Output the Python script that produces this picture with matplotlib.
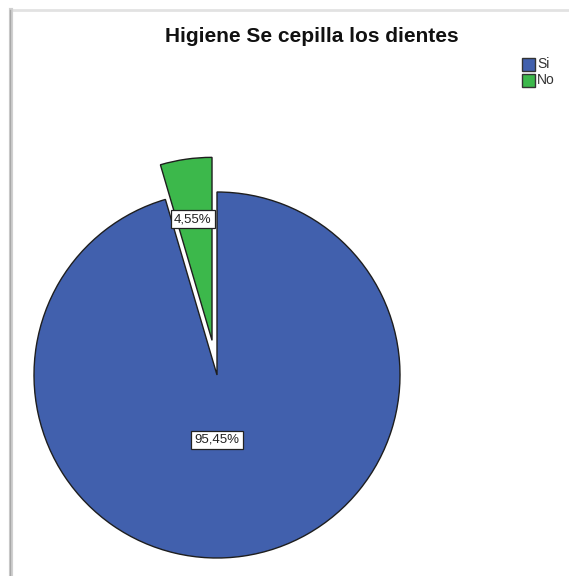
import matplotlib.pyplot as plt
from matplotlib.patches import Rectangle
from matplotlib.lines import Line2D

plt.rcParams['font.family'] = ['Liberation Sans', 'DejaVu Sans']

# Data
categories = ['Si', 'No']
percentages = [95.45, 4.55]
colors = ['#4160ad', '#3cb84b']
title = 'Higiene Se cepilla los dientes'

W, H = 569, 576
fig = plt.figure(figsize=(W / 100, H / 100), dpi=100)
ax = fig.add_axes([0, 0, 1, 1])
ax.set_xlim(0, W)
ax.set_ylim(0, H)
ax.set_aspect('equal')
ax.axis('off')

# chart frame (top and left edges with a soft shadow)
ax.add_line(Line2D([10, W], [H - 10, H - 10], color='#e2e2e2', lw=2.0))
ax.add_line(Line2D([11, 11], [0, H - 10], color='#d0d0d0', lw=3.0))
ax.add_line(Line2D([10, 10], [0, H - 10], color='#a8a8a8', lw=1.0))

# pie in pixel units; explode is an absolute offset here
cx, cy, r = 217, H - 375, 183
wedges, _ = ax.pie(percentages, colors=colors, startangle=90, counterclock=False,
                   explode=[0, 35], center=(cx, cy), radius=r, frame=True,
                   wedgeprops=dict(edgecolor='#1e1e1e', linewidth=1.0))
ax.set_xlim(0, W)
ax.set_ylim(0, H)
ax.axis('off')

def fmt(v):
    return f'{v:.2f}'.replace('.', ',') + '%'

box = dict(boxstyle='square,pad=0.25', facecolor='white', edgecolor='#222222', linewidth=0.9)
ax.text(217, H - 440, fmt(percentages[0]), ha='center', va='center', fontsize=9.5,
        color='#222222', bbox=box, zorder=5)
ax.text(193, H - 219, fmt(percentages[1]), ha='center', va='center', fontsize=9.5,
        color='#222222', bbox=box, zorder=5)

ax.text(312, H - 37, title, ha='center', va='center', fontsize=15, fontweight='bold',
        color='#111111')

# legend
for i, (lab, col) in enumerate(zip(categories, colors)):
    y = H - 64 - i * 16
    ax.add_patch(Rectangle((522, y - 6.5), 13, 13, facecolor=col, edgecolor='#333333', lw=1.0))
    ax.text(537, y, lab, ha='left', va='center', fontsize=10, color='#333333')

fig.savefig('out.png', dpi=100)
